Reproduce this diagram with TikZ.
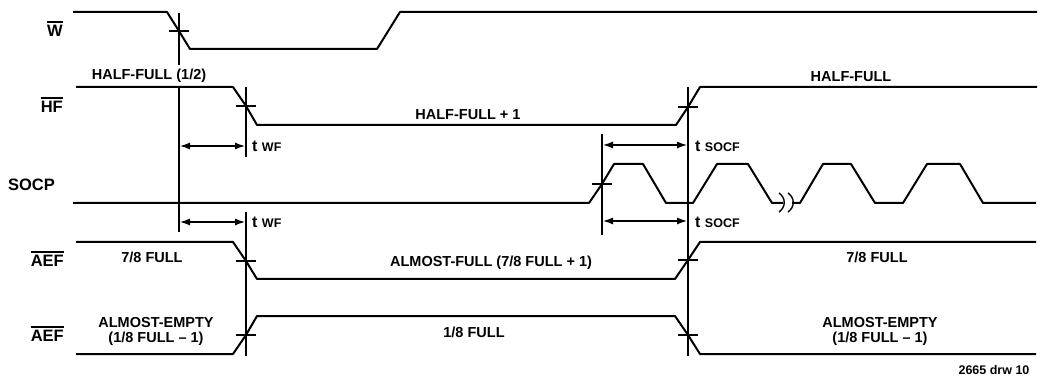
\documentclass[tikz,border=0pt]{standalone}
\usepackage{fontspec}
\setmainfont{Liberation Sans}
\usetikzlibrary{arrows.meta}
\newcommand\barred[1]{\leavevmode\vbox{\hrule height 1.6pt\kern2.5pt\hbox{#1}}}
\begin{document}
\begin{tikzpicture}[x=1pt,y=-1pt,
  sig/.style={line width=2pt, line join=round},
  guide/.style={line width=1.2pt},
  crosstick/.style={line width=1.2pt},
  dimarrow/.style={line width=1.3pt, {Latex[length=10pt,width=7pt]}-{Latex[length=10pt,width=7pt]}, shorten <=1pt, shorten >=1pt},
  siglabel/.style={font=\fontsize{16.5}{16.5}\selectfont\bfseries, anchor=east, inner sep=0pt},
  txt/.style={font=\fontsize{14.5}{15}\selectfont\bfseries, inner sep=0pt, align=center},
  timelabel/.style={anchor=west, inner sep=0pt}]
\useasboundingbox (0,0) rectangle (1041,379);

% signal labels
\node[siglabel] (lW)    at (63,29)  {\barred{W}};
\node[siglabel] (lHF)   at (63,105) {\barred{HF}};
\node[siglabel] (lSOCP) at (55,185) {SOCP};
\node[siglabel] (lAEF1) at (64,259) {\barred{AEF}};
\node[siglabel] (lAEF2) at (64,334) {\barred{AEF}};

% crossing points
\coordinate (cW)   at (179,31);
\coordinate (cHF1) at (246,106);
\coordinate (cHF2) at (688,107);
\coordinate (cS)   at (602,184);
\coordinate (cA1)  at (246,261);
\coordinate (cA2)  at (688,260);
\coordinate (cB1)  at (246,335);
\coordinate (cB2)  at (688,335);

% waveforms
\draw[sig] (73,12) -- (167,12) -- (cW) -- (190,49) -- (377,49) -- (400,12) -- (1037,12);
\draw[sig] (76,87) -- (233,87) -- (cHF1) -- (257,125) -- (676,125) -- (cHF2) -- (700,87) -- (1037,87);
\draw[sig] (73,203) -- (589,203) -- (cS) -- (614,164) -- (643,164) -- (666,203) -- (693,203)
  -- (717,164) -- (748,164) -- (772,203) -- (783,203);
\draw[sig] (792,203) -- (800,203) -- (823,164) -- (851,164) -- (875,203) -- (903,203)
  -- (927,164) -- (960,164) -- (983,203) -- (1036,203);
\draw[line width=1.4pt] (779,193) .. controls (786,198) and (786,207) .. (779,212);
\draw[line width=1.4pt] (788,193) .. controls (795,198) and (795,207) .. (788,212);
\draw[sig] (76,242) -- (233,242) -- (cA1) -- (257,279) -- (675,279) -- (cA2) -- (700,242) -- (1036,242);
\draw[sig] (76,354) -- (233,354) -- (cB1) -- (257,316) -- (675,316) -- (cB2) -- (700,354) -- (1036,354);

% crossing ticks
\foreach \c in {cW,cHF1,cHF2,cS,cA1,cA2,cB1,cB2}
  \draw[crosstick] (\c) ++(-10,0) -- ++(20,0);

% reference verticals
\draw[guide] (179,13) -- (179,65);
\draw[guide] (179,87) -- (179,232);
\draw[guide] (246,87) -- (246,157);
\draw[guide] (246,212) -- (246,356);
\draw[guide] (602,134) -- (602,235);
\draw[guide] (688,87) -- (688,356);

% timing arrows
\coordinate (tw1a) at (179,146); \coordinate (tw1b) at (246,146);
\coordinate (tw2a) at (179,222); \coordinate (tw2b) at (246,222);
\coordinate (ts1a) at (602,145); \coordinate (ts1b) at (688,145);
\coordinate (ts2a) at (602,221); \coordinate (ts2b) at (688,221);
\draw[dimarrow] (tw1a) -- (tw1b);
\draw[dimarrow] (tw2a) -- (tw2b);
\draw[dimarrow] (ts1a) -- (ts1b);
\draw[dimarrow] (ts2a) -- (ts2b);
\node[timelabel] (twf1) at (252,146) {\fontsize{16}{16}\selectfont\bfseries t \fontsize{12.5}{12.5}\selectfont WF};
\node[timelabel] (twf2) at (252,222) {\fontsize{16}{16}\selectfont\bfseries t \fontsize{12.5}{12.5}\selectfont WF};
\node[timelabel] (tsf1) at (695,146) {\fontsize{16}{16}\selectfont\bfseries t \fontsize{12.5}{12.5}\selectfont SOCF};
\node[timelabel] (tsf2) at (695,222) {\fontsize{16}{16}\selectfont\bfseries t \fontsize{12.5}{12.5}\selectfont SOCF};

% state texts
\node[txt] (hf12) at (149,76)  {HALF-FULL (1/2)};
\node[txt] (hfp1) at (468,115) {HALF-FULL + 1};
\node[txt] (hf)   at (851,77)  {HALF-FULL};
\node[txt] (f78a) at (152,257) {7/8 FULL};
\node[txt] (af)   at (491,263) {ALMOST-FULL (7/8 FULL + 1)};
\node[txt] (f78b) at (877,257) {7/8 FULL};
\node[txt] (aea)  at (156,331) {ALMOST-EMPTY\\(1/8 FULL -- 1)};
\node[txt] (f18)  at (474,332) {1/8 FULL};
\node[txt] (aeb)  at (880,331) {ALMOST-EMPTY\\(1/8 FULL -- 1)};
\node[font=\fontsize{12.5}{12.5}\selectfont\bfseries, inner sep=0pt] (drw) at (994,370) {2665 drw 10};
\end{tikzpicture}
\end{document}
